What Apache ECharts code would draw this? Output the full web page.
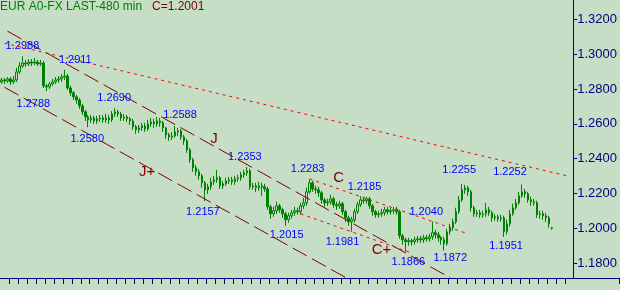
<!DOCTYPE html>
<html><head><meta charset="utf-8">
<script src="https://cdn.jsdelivr.net/npm/echarts@6/dist/echarts.min.js"></script>
<style>html,body{margin:0;padding:0;background:#c5dec5}#c{width:620px;height:290px}</style>
</head><body><div id="c"></div>
<script>
// [open, close, low, high] per 480-min bar
const candles = [
[1.2841,1.2852,1.2829,1.2864],[1.2852,1.2846,1.2829,1.2864],[1.2846,1.2858,1.2835,1.2869],[1.2858,1.2841,1.2823,1.2869],
[1.2841,1.2852,1.2829,1.2875],[1.2852,1.2898,1.2841,1.2921],[1.2898,1.2932,1.2886,1.2955],[1.2932,1.2949,1.2921,1.2988],
[1.2949,1.2944,1.2927,1.2967],[1.2944,1.2955,1.2932,1.2972],[1.2955,1.2949,1.2932,1.2972],[1.2949,1.2955,1.2938,1.2978],
[1.2955,1.2944,1.2932,1.2967],[1.2944,1.2949,1.2932,1.2967],[1.2949,1.2818,1.2806,1.2961],[1.2818,1.2812,1.2788,1.2829],
[1.2812,1.2829,1.2800,1.2841],[1.2829,1.2841,1.2818,1.2858],[1.2841,1.2852,1.2829,1.2869],[1.2852,1.2858,1.2835,1.2875],
[1.2858,1.2869,1.2841,1.2886],[1.2869,1.2875,1.2852,1.2911],[1.2875,1.2806,1.2795,1.2886],[1.2806,1.2778,1.2760,1.2818],
[1.2778,1.2755,1.2737,1.2789],[1.2755,1.2737,1.2715,1.2766],[1.2737,1.2703,1.2686,1.2749],[1.2703,1.2669,1.2651,1.2715],
[1.2669,1.2640,1.2617,1.2680],[1.2640,1.2623,1.2580,1.2651],[1.2623,1.2634,1.2606,1.2651],[1.2634,1.2617,1.2600,1.2646],
[1.2617,1.2629,1.2600,1.2646],[1.2629,1.2634,1.2611,1.2651],[1.2634,1.2623,1.2606,1.2651],[1.2623,1.2634,1.2606,1.2657],
[1.2634,1.2623,1.2600,1.2651],[1.2623,1.2657,1.2611,1.2674],[1.2657,1.2669,1.2640,1.2690],[1.2669,1.2657,1.2640,1.2680],
[1.2657,1.2634,1.2617,1.2669],[1.2634,1.2640,1.2617,1.2657],[1.2640,1.2629,1.2611,1.2651],[1.2629,1.2617,1.2594,1.2640],
[1.2617,1.2583,1.2566,1.2629],[1.2583,1.2566,1.2543,1.2594],[1.2566,1.2577,1.2548,1.2594],[1.2577,1.2588,1.2560,1.2606],
[1.2588,1.2571,1.2554,1.2606],[1.2571,1.2600,1.2560,1.2623],[1.2600,1.2611,1.2583,1.2634],[1.2611,1.2600,1.2577,1.2629],
[1.2600,1.2617,1.2583,1.2640],[1.2617,1.2606,1.2583,1.2634],[1.2606,1.2577,1.2554,1.2617],[1.2577,1.2537,1.2514,1.2583],
[1.2537,1.2525,1.2502,1.2548],[1.2525,1.2531,1.2508,1.2554],[1.2531,1.2554,1.2520,1.2588],[1.2554,1.2560,1.2531,1.2577],
[1.2560,1.2525,1.2508,1.2571],[1.2525,1.2502,1.2480,1.2537],[1.2502,1.2451,1.2434,1.2514],[1.2451,1.2394,1.2376,1.2462],
[1.2394,1.2348,1.2325,1.2405],[1.2348,1.2325,1.2302,1.2365],[1.2325,1.2302,1.2279,1.2342],[1.2302,1.2262,1.2233,1.2313],
[1.2262,1.2222,1.2157,1.2273],[1.2222,1.2239,1.2199,1.2256],[1.2239,1.2268,1.2222,1.2291],[1.2268,1.2279,1.2250,1.2302],
[1.2279,1.2291,1.2262,1.2336],[1.2291,1.2245,1.2227,1.2302],[1.2245,1.2256,1.2227,1.2273],[1.2256,1.2273,1.2245,1.2291],
[1.2273,1.2279,1.2256,1.2296],[1.2279,1.2268,1.2250,1.2296],[1.2268,1.2285,1.2250,1.2302],[1.2285,1.2291,1.2268,1.2308],
[1.2291,1.2308,1.2273,1.2325],[1.2308,1.2319,1.2291,1.2336],[1.2319,1.2331,1.2302,1.2353],[1.2331,1.2239,1.2222,1.2342],
[1.2239,1.2245,1.2222,1.2262],[1.2245,1.2233,1.2210,1.2262],[1.2233,1.2245,1.2216,1.2268],[1.2245,1.2239,1.2187,1.2262],
[1.2239,1.2227,1.2210,1.2256],[1.2227,1.2124,1.2107,1.2239],[1.2124,1.2084,1.2056,1.2136],[1.2084,1.2102,1.2067,1.2124],
[1.2102,1.2130,1.2084,1.2153],[1.2130,1.2107,1.2090,1.2142],[1.2107,1.2084,1.2061,1.2119],[1.2084,1.2050,1.2015,1.2096],
[1.2050,1.2073,1.2033,1.2090],[1.2073,1.2090,1.2056,1.2107],[1.2090,1.2102,1.2073,1.2124],[1.2102,1.2096,1.2079,1.2119],
[1.2096,1.2130,1.2079,1.2147],[1.2130,1.2147,1.2113,1.2176],[1.2147,1.2210,1.2130,1.2233],[1.2210,1.2262,1.2199,1.2283],
[1.2262,1.2227,1.2210,1.2273],[1.2227,1.2222,1.2199,1.2245],[1.2222,1.2205,1.2182,1.2239],[1.2205,1.2164,1.2142,1.2216],
[1.2164,1.2147,1.2124,1.2176],[1.2147,1.2153,1.2130,1.2170],[1.2153,1.2170,1.2136,1.2193],[1.2170,1.2136,1.2119,1.2182],
[1.2136,1.2130,1.2107,1.2153],[1.2130,1.2142,1.2113,1.2159],[1.2142,1.2096,1.2079,1.2153],[1.2096,1.2061,1.2038,1.2107],
[1.2061,1.2038,1.2016,1.2073],[1.2038,1.2050,1.1981,1.2067],[1.2050,1.2096,1.2033,1.2113],[1.2096,1.2136,1.2084,1.2153],
[1.2136,1.2164,1.2124,1.2185],[1.2164,1.2159,1.2142,1.2182],[1.2159,1.2170,1.2142,1.2182],[1.2170,1.2130,1.2113,1.2182],
[1.2130,1.2096,1.2073,1.2142],[1.2096,1.2079,1.2061,1.2107],[1.2079,1.2084,1.2061,1.2102],[1.2084,1.2090,1.2067,1.2113],
[1.2090,1.2107,1.2073,1.2124],[1.2107,1.2096,1.2079,1.2124],[1.2096,1.2102,1.2079,1.2119],[1.2102,1.2107,1.2084,1.2124],
[1.2107,1.2096,1.2079,1.2124],[1.2096,1.1958,1.1941,1.2107],[1.1958,1.1935,1.1907,1.1970],[1.1935,1.1924,1.1866,1.1947],
[1.1924,1.1930,1.1901,1.1947],[1.1930,1.1924,1.1901,1.1941],[1.1924,1.1935,1.1907,1.1953],[1.1935,1.1941,1.1918,1.1958],
[1.1941,1.1935,1.1918,1.1958],[1.1935,1.1947,1.1918,1.1964],[1.1947,1.1941,1.1924,1.1964],[1.1941,1.1953,1.1924,1.1970],
[1.1953,1.1976,1.1935,1.2040],[1.1976,1.1964,1.1941,1.1993],[1.1964,1.1947,1.1924,1.1981],[1.1947,1.1935,1.1907,1.1958],
[1.1935,1.1913,1.1872,1.1953],[1.1913,1.1981,1.1901,1.1998],[1.1981,1.2004,1.1964,1.2027],[1.2004,1.2038,1.1987,1.2056],
[1.2038,1.2096,1.2027,1.2119],[1.2096,1.2164,1.2084,1.2187],[1.2164,1.2222,1.2153,1.2255],[1.2222,1.2233,1.2199,1.2250],
[1.2233,1.2210,1.2187,1.2245],[1.2210,1.2119,1.2096,1.2222],[1.2119,1.2084,1.2067,1.2130],[1.2084,1.2090,1.2067,1.2107],
[1.2090,1.2079,1.2061,1.2107],[1.2079,1.2084,1.2061,1.2102],[1.2084,1.2107,1.2067,1.2147],[1.2107,1.2090,1.2073,1.2124],
[1.2090,1.2061,1.2038,1.2102],[1.2061,1.2067,1.2044,1.2084],[1.2067,1.2056,1.2038,1.2079],[1.2056,1.2061,1.2038,1.2079],
[1.2061,1.1981,1.1951,1.2073],[1.1981,1.2027,1.1964,1.2050],[1.2027,1.2084,1.2010,1.2107],[1.2084,1.2119,1.2073,1.2142],
[1.2119,1.2147,1.2107,1.2170],[1.2147,1.2187,1.2136,1.2210],[1.2187,1.2210,1.2176,1.2252],[1.2210,1.2199,1.2176,1.2227],
[1.2199,1.2164,1.2147,1.2210],[1.2164,1.2153,1.2130,1.2182],[1.2153,1.2147,1.2130,1.2170],[1.2147,1.2079,1.2061,1.2159],
[1.2079,1.2084,1.2056,1.2102],[1.2084,1.2073,1.2050,1.2102],[1.2073,1.2061,1.2038,1.2090],[1.2061,1.2027,1.2004,1.2073],
[1.2004,1.2001,1.1993,1.2010]
];
const slotCount = 207;
const categories = Array.from({length: slotCount}, (_, i) => String(i));
const yTicks = [1.18, 1.20, 1.22, 1.24, 1.26, 1.28, 1.30, 1.32];

// swing annotations: bar index and price
const swingBars   = [7, 21, 15, 38, 29, 58, 82, 68, 103, 95, 120, 117, 144, 135, 148, 154, 174, 168];
const swingPrices = [1.2988,1.2911,1.2788,1.2690,1.2580,1.2588,1.2353,1.2157,1.2283,1.2015,1.2185,1.1981,1.2040,1.1866,1.1872,1.2255,1.2252,1.1951];
// wave letters
const waveText   = ['J', 'J+', 'C', 'C+'];
const waveBars   = [71, 49, 112, 126];
const wavePrices = [1.2513, 1.2324, 1.2290, 1.1876];
// trend lines [[bar, price], [bar, price]]
const lineLong   = [[1, 1.3063], [190, 1.2298]];
const lineJUpper = [[2, 1.3132], [150, 1.1717]];
const lineJLower = [[1, 1.2810], [115, 1.1719]];
const lineCUpper = [[103, 1.2284], [156, 1.1969]];
const lineCLower = [[100, 1.2084], [137, 1.1860]];

// layout (label offsets in px)
const swingOffsets = [[0,-10],[11,-10],[-13,13],[-1,-10],[-1,12],[5,-11],[-2,-10],[-2,11],[-2,-10],[1,9],[4,-9],[-9,10],[-6,-10],[3,10],[6,7],[-3,-14],[-12,-13],[2,9]];
const waveOffsets = [[0,0],[-1,0],[2,0],[3,0]];

const FONT = "'Liberation Sans', Arial, sans-serif";
const NAVY = '#000080';
const MAROON = '#800000';

const markPoints = [];
swingBars.forEach((b, k) => {
  markPoints.push({
    coord: [b, swingPrices[k]], symbol: 'circle', symbolSize: 0,
    label: { show: true, formatter: swingPrices[k].toFixed(4), color: '#0000ff', fontSize: 11, fontFamily: FONT, offset: swingOffsets[k] }
  });
});
waveBars.forEach((b, k) => {
  markPoints.push({
    coord: [b, wavePrices[k]], symbol: 'circle', symbolSize: 0,
    label: { show: true, formatter: waveText[k], color: MAROON, fontSize: 15, fontFamily: FONT, offset: waveOffsets[k] }
  });
});

function seg(pts, style) {
  return [{ coord: pts[0], lineStyle: style }, { coord: pts[1] }];
}
const maroonDash = { color: MAROON, width: 1, type: [16, 6] };
const redDot = { color: '#ff0000', width: 1, type: [3, 4] };

const lastClose = candles[candles.length - 1][1];

const chart = echarts.init(document.getElementById('c'), null, { renderer: 'canvas' });
chart.setOption({
  animation: false,
  backgroundColor: '#c5dec5',
  title: [
    { text: 'EUR A0-FX LAST-480 min', left: 0, top: 1, padding: 0, textStyle: { color: '#008000', fontSize: 12, fontWeight: 'normal', fontFamily: FONT } },
    { text: 'C=' + lastClose.toFixed(4), left: 152, top: 1, padding: 0, textStyle: { color: MAROON, fontSize: 12, fontWeight: 'normal', fontFamily: FONT } }
  ],
  grid: { left: -4, right: 0, top: 0, bottom: 12 },
  xAxis: {
    type: 'category', data: categories, boundaryGap: true,
    axisLine: { show: true, lineStyle: { color: NAVY, width: 1 } },
    axisTick: { show: true, length: 6, lineStyle: { color: NAVY, width: 1 },
      interval: (i) => i > 0 && i % 3 === 0 && i <= 189 },
    axisLabel: { show: false },
    splitLine: { show: false }
  },
  yAxis: {
    type: 'value', position: 'right', offset: -46,
    min: 1.17158, max: 1.33107, scale: true,
    axisLine: { show: true, lineStyle: { color: NAVY, width: 1 } },
    axisTick: { show: true, length: 4, customValues: yTicks, lineStyle: { color: NAVY } },
    axisLabel: { show: true, customValues: yTicks, margin: 4, color: NAVY, fontSize: 13, fontFamily: FONT,
      formatter: v => v.toFixed(4) },
    splitLine: { show: false }
  },
  series: [{
    type: 'candlestick',
    data: candles,
    barWidth: 2,
    itemStyle: { color: 'rgba(0,0,0,0)', color0: '#008000', borderColor: '#008000', borderColor0: '#008000', borderWidth: 1 },
    markPoint: { silent: true, animation: false, data: markPoints },
    markLine: {
      silent: true, animation: false, symbol: ['none', 'none'], label: { show: false },
      data: [
        seg(lineLong, redDot), seg(lineJUpper, maroonDash), seg(lineJLower, maroonDash),
        seg(lineCUpper, redDot), seg(lineCLower, redDot)
      ]
    }
  }]
});
</script></body></html>
